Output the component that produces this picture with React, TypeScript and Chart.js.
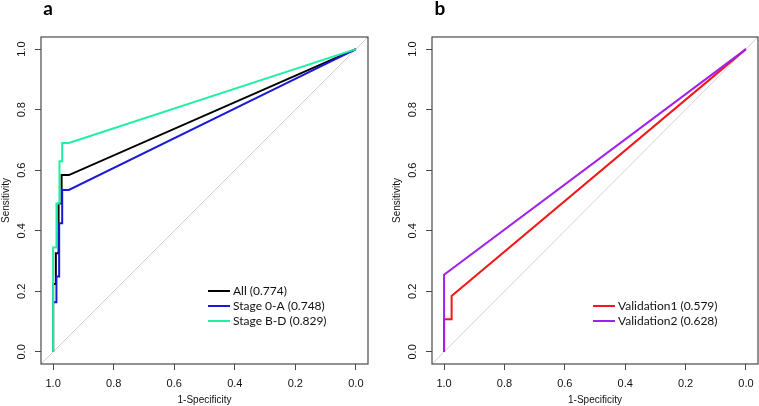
import React, { useEffect, useRef } from "react";
import { Chart, registerables } from "chart.js";
Chart.register(...registerables);

// ---- tick values ----
const tickValues = [0, 0.2, 0.4, 0.6, 0.8, 1.0];

// ---- panel a ----
const allSpec = [1.0, 1.0, 0.991, 0.991, 0.982, 0.982, 0.972, 0.972, 0.948, 0.0];
const allSens = [0.0, 0.224, 0.224, 0.326, 0.326, 0.49, 0.49, 0.584, 0.584, 1.0];

const stage0ASpec = [1.0, 1.0, 0.989, 0.989, 0.98, 0.98, 0.97, 0.97, 0.948, 0.0];
const stage0ASens = [0.0, 0.164, 0.164, 0.249, 0.249, 0.425, 0.425, 0.535, 0.535, 1.0];

const stageBDSpec = [1.0, 1.0, 0.989, 0.989, 0.979, 0.979, 0.97, 0.97, 0.948, 0.0];
const stageBDSens = [0.0, 0.345, 0.345, 0.49, 0.49, 0.63, 0.63, 0.69, 0.69, 1.0];

const panelALabels = ["All (0.774)", "Stage 0-A (0.748)", "Stage B-D (0.829)"];
const panelAColors = ["#000000", "#1a1ad6", "#1ff0a0"];

// ---- panel b ----
const val1Spec = [1.0, 1.0, 0.975, 0.975, 0.0];
const val1Sens = [0.0, 0.108, 0.108, 0.185, 1.0];

const val2Spec = [1.0, 1.0, 0.0];
const val2Sens = [0.0, 0.255, 1.0];

const panelBLabels = ["Validation1 (0.579)", "Validation2 (0.628)"];
const panelBColors = ["#f01818", "#a020f0"];

// ---- chance line (spans full plot) ----
const diagSpec = [1.04, -0.04];
const diagSens = [-0.04, 1.04];

const pts = (xs: number[], ys: number[]) => xs.map((x, i) => ({ x, y: ys[i] }));

type Series = { label: string; color: string; spec: number[]; sens: number[] };

const decoPlugin = {
  id: "deco",
  afterDraw(chart: any, _args: any, opts: any) {
    const ctx = chart.ctx;
    const ca = chart.chartArea;
    ctx.save();
    // box
    ctx.strokeStyle = "#4a4a4a";
    ctx.lineWidth = 1.2;
    ctx.strokeRect(ca.left, ca.top, ca.right - ca.left, ca.bottom - ca.top);
    // rotated y tick labels
    const ys = chart.scales.y;
    ctx.fillStyle = "#111";
    ctx.font = "11px 'Liberation Sans', Arial, sans-serif";
    ctx.textAlign = "center";
    ctx.textBaseline = "middle";
    ys.ticks.forEach((t: any) => {
      const py = ys.getPixelForValue(t.value);
      ctx.save();
      ctx.translate(ca.left - 19, py);
      ctx.rotate(-Math.PI / 2);
      ctx.fillText(t.value.toFixed(1), 0, 0);
      ctx.restore();
    });
    // panel letter
    ctx.font = "bold 19px Lato, 'Liberation Sans', sans-serif";
    ctx.textAlign = "center";
    ctx.textBaseline = "alphabetic";
    ctx.fillStyle = "#000";
    ctx.fillText(opts.letter, opts.letterX, 15);
    // legend
    ctx.font = "12px Lato, 'Liberation Sans', sans-serif";
    ctx.textAlign = "left";
    ctx.textBaseline = "middle";
    const items = chart.data.datasets.filter((d: any) => d.inLegend);
    items.forEach((d: any, i: number) => {
      const y = opts.legendY + i * opts.legendStep;
      ctx.strokeStyle = d.borderColor;
      ctx.lineWidth = 2;
      ctx.beginPath();
      ctx.moveTo(opts.legendX, y);
      ctx.lineTo(opts.legendX + 22, y);
      ctx.stroke();
      ctx.fillStyle = "#111";
      ctx.fillText(d.label, opts.legendX + 25, y + 0.5);
    });
    ctx.restore();
  },
};

function Panel(props: {
  series: Series[];
  letter: string;
  letterX: number;
  padLeft: number;
  padRight: number;
  legendX: number;
  legendY: number;
  left: number;
  width: number;
}) {
  const ref = useRef<HTMLCanvasElement>(null);
  useEffect(() => {
    const canvas = ref.current!;
    const datasets: any[] = props.series.map((s, i) => ({
      label: s.label,
      data: pts(s.spec, s.sens),
      borderColor: s.color,
      backgroundColor: s.color,
      borderWidth: 2,
      pointRadius: 0,
      showLine: true,
      tension: 0,
      fill: false,
      order: props.series.length - i,
      inLegend: true,
    }));
    datasets.push({
      label: "chance",
      data: pts(diagSpec, diagSens),
      borderColor: "#d2d2d2",
      borderWidth: 1,
      pointRadius: 0,
      showLine: true,
      fill: false,
      order: 20,
      inLegend: false,
    });
    const setTicks = (scale: any) => {
      scale.ticks = tickValues.map((v) => ({ value: v }));
    };
    const chart = new Chart(canvas, {
      type: "scatter",
      data: { datasets },
      plugins: [decoPlugin],
      options: {
        responsive: false,
        animation: false,
        events: [],
        layout: { padding: { top: 37, right: props.padRight, left: props.padLeft, bottom: 0 } },
        plugins: {
          legend: { display: false },
          tooltip: { enabled: false },
          deco: {
            letter: props.letter,
            letterX: props.letterX,
            legendX: props.legendX,
            legendY: props.legendY,
            legendStep: 15,
          },
        } as any,
        scales: {
          x: {
            type: "linear",
            reverse: true,
            min: -0.04,
            max: 1.04,
            afterBuildTicks: setTicks,
            afterFit: (s: any) => {
              s.height = 42;
            },
            border: { display: false },
            grid: { drawOnChartArea: false, drawTicks: true, tickLength: 6, color: "#4a4a4a" },
            ticks: {
              color: "#111",
              font: { family: "'Liberation Sans', Arial, sans-serif", size: 11 },
              padding: 7,
              maxRotation: 0,
              minRotation: 0,
              callback: (v: any) => Number(v).toFixed(1),
            },
            title: {
              display: true,
              text: "1-Specificity",
              color: "#111",
              font: { family: "'Liberation Sans', Arial, sans-serif", size: 10 },
              padding: { top: 0, bottom: 0 },
            },
          },
          y: {
            type: "linear",
            min: -0.04,
            max: 1.04,
            afterBuildTicks: setTicks,
            afterFit: (s: any) => {
              s.width = 41;
            },
            border: { display: false },
            grid: { drawOnChartArea: false, drawTicks: true, tickLength: 6, color: "#4a4a4a" },
            ticks: {
              color: "rgba(0,0,0,0)",
              font: { family: "'Liberation Sans', Arial, sans-serif", size: 11 },
              callback: (v: any) => Number(v).toFixed(1),
            },
            title: {
              display: true,
              text: "Sensitivity",
              color: "#111",
              font: { family: "'Liberation Sans', Arial, sans-serif", size: 10 },
              padding: { top: 0, bottom: 0 },
            },
          },
        },
      } as any,
    });
    return () => chart.destroy();
  }, []);
  return (
    <canvas
      ref={ref}
      width={props.width}
      height={406}
      style={{ position: "absolute", left: props.left, top: 0, width: props.width, height: 406 }}
    />
  );
}

export default function App() {
  const seriesA: Series[] = [
    { label: panelALabels[0], color: panelAColors[0], spec: allSpec, sens: allSens },
    { label: panelALabels[1], color: panelAColors[1], spec: stage0ASpec, sens: stage0ASens },
    { label: panelALabels[2], color: panelAColors[2], spec: stageBDSpec, sens: stageBDSens },
  ];
  const seriesB: Series[] = [
    { label: panelBLabels[0], color: panelBColors[0], spec: val1Spec, sens: val1Sens },
    { label: panelBLabels[1], color: panelBColors[1], spec: val2Spec, sens: val2Sens },
  ];
  return (
    <div style={{ position: "fixed", left: 0, top: 0, width: 759, height: 406, background: "#fff", overflow: "hidden" }}>
      <Panel series={seriesA} letter="a" letterX={48} padLeft={0} padRight={12} legendX={208} legendY={291} left={0} width={380} />
      <Panel series={seriesB} letter="b" letterX={60} padLeft={11} padRight={1} legendX={213} legendY={306} left={380} width={379} />
    </div>
  );
}
